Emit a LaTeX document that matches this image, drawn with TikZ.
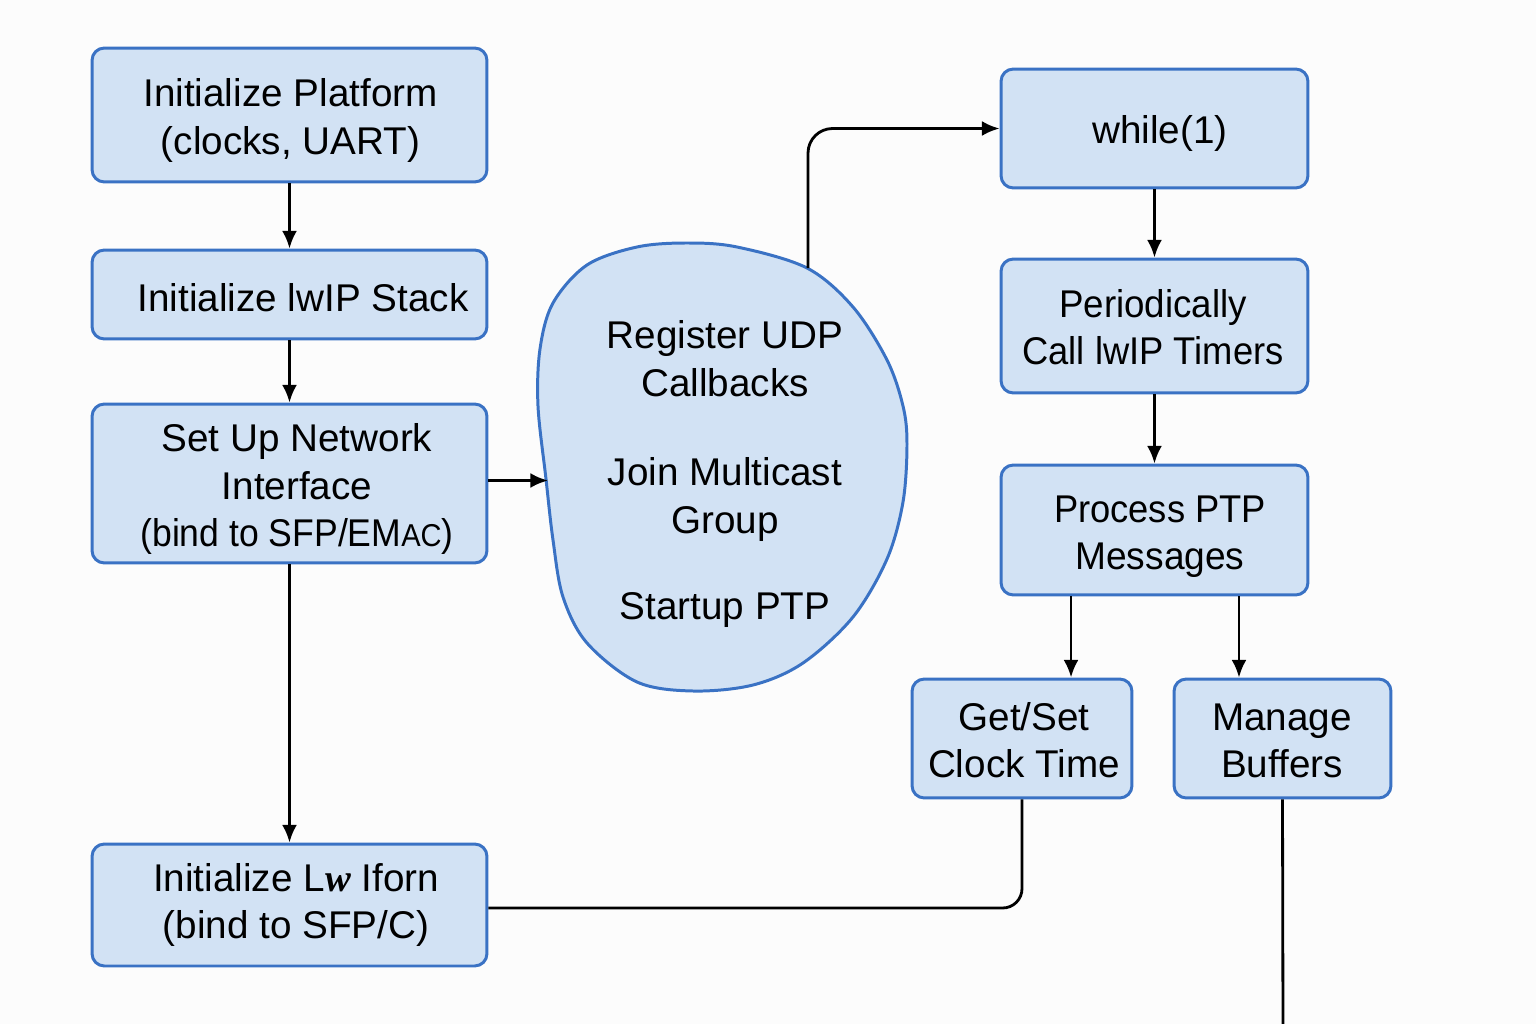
\documentclass[tikz,border=0pt]{standalone}
\usepackage{fontspec}
\setmainfont{Liberation Sans}
\newfontfamily\serifw{Liberation Serif}
\usetikzlibrary{arrows.meta,calc}
\definecolor{boxfill}{HTML}{D2E2F4}
\definecolor{boxline}{HTML}{3A72C4}
\definecolor{bgcol}{HTML}{FCFCFC}
\tikzset{
  box/.style={draw=boxline, fill=boxfill, line width=1.7pt, rounded corners=7pt,
    inner sep=0pt},
  conn/.style={draw=black, line width=1.6pt},
  arr/.style={conn, -{Latex[length=10pt,width=8.5pt]}},
  txt/.style={align=center, inner sep=0pt, font=\fontsize{22}{27}\selectfont}
}
\begin{document}
\begin{tikzpicture}[x=0.02cm,y=-0.02cm]
\fill[bgcol] (0,0) rectangle (1536,1024);
\useasboundingbox (0,0) rectangle (1536,1024);

% left column
\node[box, minimum width=7.9cm, minimum height=2.68cm] (b1) at (289.5,115) {};
\node[txt] (b1t) at (290.5,120.5) {Initialize Platform\\(clocks, UART)};
\node[box, minimum width=7.9cm, minimum height=1.78cm] (b2) at (289.5,294.5) {};
\node[txt] (b2t) at (303,297.5) {Initialize lwIP Stack};
\node[box, minimum width=7.9cm, minimum height=3.18cm] (b3) at (289.5,483.5) {};
\node[txt] (b3t) at (297,489) {Set Up Network\\Interface\\\scalebox{0.92}[1]{(bind to SFP/EM{\fontsize{18}{27}\selectfont AC})}};
\node[box, minimum width=7.9cm, minimum height=2.44cm] (b4) at (289.5,905) {};
\node[txt] (b4t) at (296,905) {Initialize L{\serifw\bfseries\itshape w} Iforn\\(bind to SFP/C)};

% blob
\filldraw[fill=boxfill, draw=boxline, line width=1.7pt]
  plot[smooth cycle, tension=0.55] coordinates {
  (687,243) (737,247) (807,268) (853,307) (887,360) (903,406) (907,444)
  (903,502) (887,559) (853,617) (803,663) (753,685) (693,691) (637,682)
  (587,643) (563,597) (553,540) (546,479) (538,406) (540,349) (553,303)
  (587,265) (637,247)};
\node[txt] (blobtxt) at (725,474)
  {Register UDP\\Callbacks\\[24pt]Join Multicast\\Group\\[22pt]Startup PTP};
\coordinate (blobin) at (548,480);
\coordinate (blobout) at (808,268);

% right column
\node[box, minimum width=6.14cm, minimum height=2.38cm] (w) at (1154.5,128.5) {};
\node[txt] (wt) at (1160,133.5) {while(1)};
\node[box, minimum width=6.14cm, minimum height=2.68cm] (p) at (1154.5,326) {};
\node[txt] (pt) at (1153,327) {\scalebox{0.95}[1]{Periodically}\\\scalebox{0.94}[1]{Call lwIP Timers}};
\node[box, minimum width=6.14cm, minimum height=2.6cm] (pp) at (1154.5,530) {};
\node[txt] (ppt) at (1160,536.5) {\scalebox{0.94}[1]{Process PTP}\\\scalebox{0.96}[1]{Messages}};
\node[box, minimum width=4.4cm, minimum height=2.38cm] (g) at (1022,738.5) {};
\node[txt] (gt) at (1024,740) {Get/Set\\Clock Time};
\node[box, minimum width=4.34cm, minimum height=2.38cm] (m) at (1282.5,738.5) {};
\node[txt] (mt) at (1282,741) {Manage\\Buffers};
\coordinate (mend) at (1283,1030);

% connectors
\draw[arr] (b1) -- (b2);
\draw[arr] (b2) -- (b3);
\draw[arr] (b3) -- (b4);
\draw[arr] ([yshift=0.06cm]b3.east) -- ([yshift=0.06cm]b3.east -| blobin);
\draw[arr, rounded corners=14pt] (blobout) |- (w.west);
\draw[arr] (w) -- (p);
\draw[arr] (p) -- (pp);
\draw[arr] ([xshift=-1.67cm]pp.south) -- ([xshift=-1.67cm]pp.south |- g.north);
\draw[arr] ([xshift=1.69cm]pp.south) -- ([xshift=1.69cm]pp.south |- m.north);
\draw[conn, rounded corners=11pt] (g.south) |- ([yshift=-0.06cm]b4.east);
\draw[conn] (m.south) -- (mend);
\end{tikzpicture}
\end{document}
